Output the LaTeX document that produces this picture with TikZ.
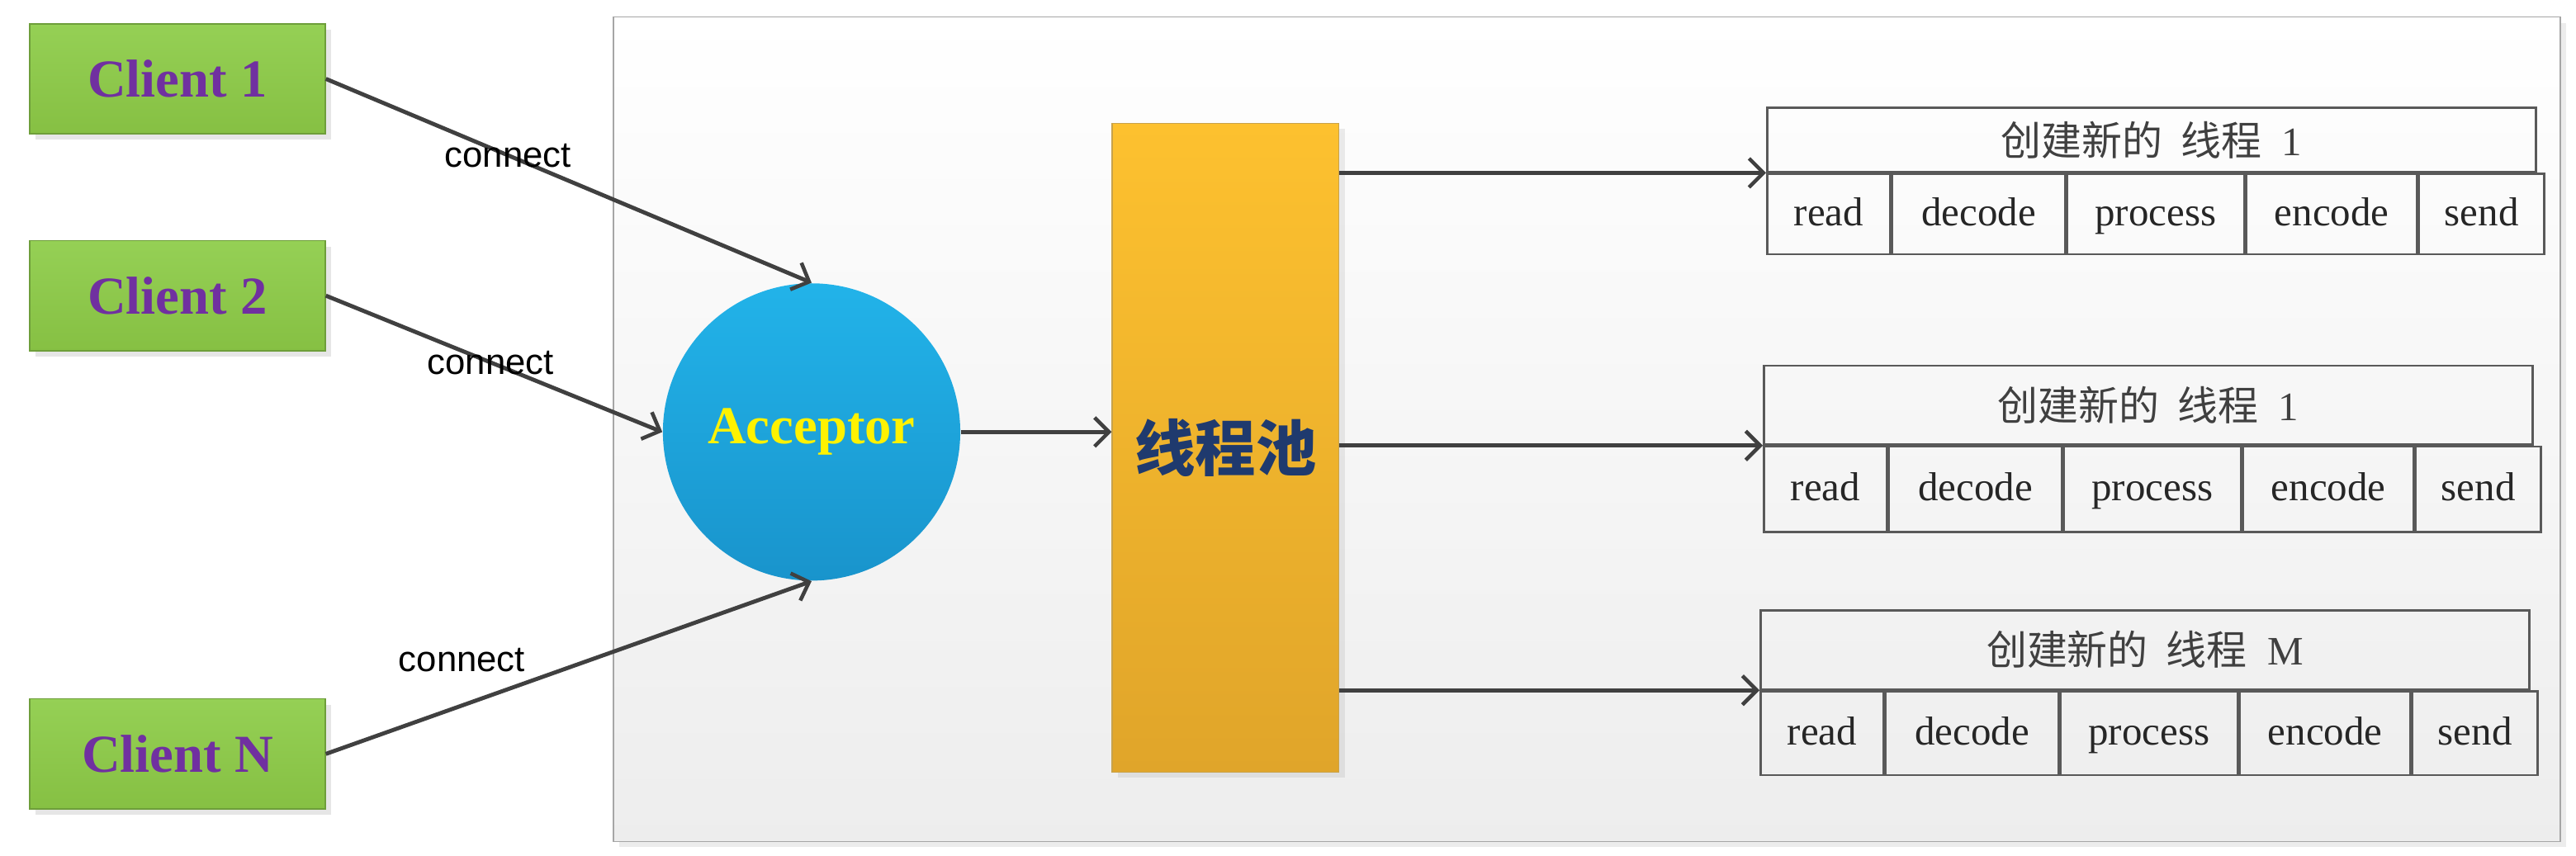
\documentclass[tikz,border=0pt]{standalone}
\usepackage{fontspec}
\setmainfont{Liberation Serif}
\setsansfont{Liberation Sans}
\newfontfamily\cjk{Noto Sans CJK SC}
\usetikzlibrary{arrows.meta,positioning,shadows}

\definecolor{clienttop}{HTML}{95D055}
\definecolor{clientbot}{HTML}{86C043}
\definecolor{clientedge}{HTML}{6E9E3A}
\definecolor{clienttext}{HTML}{7030A0}
\definecolor{frameedge}{HTML}{A6A6A6}
\definecolor{acctop}{HTML}{22B3E9}
\definecolor{accbot}{HTML}{1994CC}
\definecolor{pooltop}{HTML}{FDC12F}
\definecolor{poolbot}{HTML}{E0A52A}
\definecolor{pooledge}{HTML}{C8A24A}
\definecolor{pooltext}{HTML}{1F3A6E}
\definecolor{arrowgray}{HTML}{404040}
\definecolor{celledge}{HTML}{595959}

\begin{document}
\begin{tikzpicture}[
  client/.style={draw=clientedge, top color=clienttop, bottom color=clientbot,
    minimum width=3.6cm, minimum height=1.34cm, inner sep=0pt, text=clienttext,
    font=\bfseries\fontsize{18.5}{20}\selectfont,
    drop shadow={opacity=0.2, shadow xshift=2pt, shadow yshift=-2pt}},
  arr/.style={draw=arrowgray, line width=1.4pt, -{Straight Barb[length=5pt, width=10pt, line width=1.3pt]}},
  conn/.style={font=\sffamily\fontsize{12.5}{14}\selectfont, inner sep=1pt},
  thdr/.style={draw=celledge, line width=0.7pt, minimum width=9.36cm, inner sep=0pt,
    text=black!75, font=\fontsize{14}{16}\selectfont},
  cell/.style={draw=celledge, line width=0.7pt, inner sep=0pt, text=black!85,
    text height=0.82em, text depth=0pt, font=\fontsize{14}{16}\selectfont}]
\useasboundingbox (0,0) rectangle (31.36,-10.42);

% server frame
\node[draw=frameedge, top color=white, bottom color=black!7, minimum width=23.7cm, minimum height=10.04cm,
  inner sep=0pt, anchor=north west, drop shadow={opacity=0.15, shadow xshift=2pt, shadow yshift=-2pt}]
  (server) at (7.46,-0.2) {};

% clients
\node[client] (c1) at (2.16,-0.96) {Client 1};
\node[client] (c2) at (2.16,-3.6) {Client 2};
\node[client] (cn) at (2.16,-9.18) {Client N};

% acceptor and thread pool
\node[circle, top color=acctop, bottom color=accbot, minimum size=3.62cm, inner sep=0pt,
  text=yellow, font=\bfseries\fontsize{18.5}{20}\selectfont] (acc) at (9.88,-5.26) {Acceptor};
\node[draw=pooledge, top color=pooltop, bottom color=poolbot, minimum width=2.76cm, minimum height=7.9cm,
  inner sep=0pt, text=pooltext, font=\cjk\bfseries\fontsize{21}{24}\selectfont,
  drop shadow={opacity=0.15, shadow xshift=2pt, shadow yshift=-2pt}] (pool) at (14.92,-5.45) {线程池};

% worker threads
\foreach \n/\x/\y/\hh/\ch/\lbl in {1/21.5/-1.3/0.78/0.98/1, 2/21.46/-4.44/0.96/1.04/1, 3/21.42/-7.42/0.96/1.02/M} {
  \node[thdr, minimum height=\hh cm, anchor=north west] (h\n) at (\x,\y)
    {{\cjk 创建新的}\hspace{0.45em}{\cjk 线程}\hspace{0.5em}\lbl};
  \coordinate (nx) at (h\n.south west);
  \foreach \w/\txt [count=\k] in {1.5/read, 2.1/decode, 2.16/process, 2.08/encode, 1.52/send} {
    \node[cell, minimum width=\w cm, minimum height=\ch cm, anchor=north west] (t\n-\k) at (nx) {\txt};
    \coordinate (nx) at (t\n-\k.north east);
  }
  \draw[arr] (pool.east |- h\n.south west) -- (h\n.south west);
}

% connections
\draw[arr] (c1.east) -- node[conn, pos=0.375] {connect} (acc.north);
\draw[arr] (c2.east) -- node[conn, pos=0.49] {connect} (acc.west);
\draw[arr] (cn.east) -- node[conn, pos=0.28, above=10pt] {connect} (acc.south);
\draw[arr] (acc.east) -- (acc.east -| pool.west);
\end{tikzpicture}
\end{document}
